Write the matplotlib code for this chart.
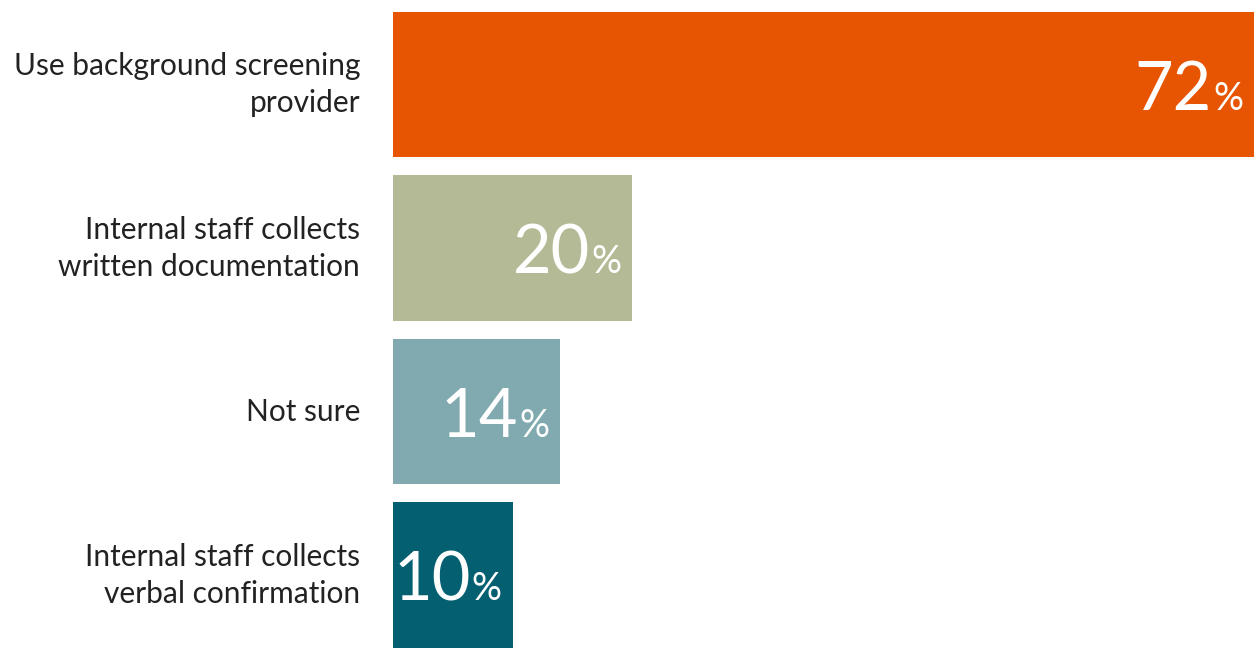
import matplotlib.pyplot as plt
from matplotlib.transforms import offset_copy

# data
categories = ["Use background screening\nprovider",
              "Internal staff collects\nwritten documentation",
              "Not sure",
              "Internal staff collects\nverbal confirmation"]
values = [72, 20, 14, 10]
colors = ["#E85502", "#B5BA96", "#80AAAF", "#046070"]

plt.rcParams['font.family'] = ['Lato', 'DejaVu Sans']

fig = plt.figure(figsize=(12.54, 6.48), dpi=100)
ax = fig.add_axes([393 / 1254, 0, 861 / 1254, 1])

ypos = list(range(len(values)))
ax.barh(ypos, values, height=0.89, color=colors, left=0)
ax.set_xlim(0, 72)
ax.set_ylim(3.445, -0.518)
ax.axis('off')

for y, v, cat in zip(ypos, values, categories):
    # category label left of the bars
    tr = offset_copy(ax.transData, fig=fig, x=-33, y=0, units='dots')
    ax.text(0, y, cat, transform=tr, ha='right', va='center',
            fontsize=21.5, color='#222222', linespacing=1.38,
            multialignment='right')
    # percent sign
    tr_p = offset_copy(ax.transData, fig=fig, x=-11, y=-25, units='dots')
    ax.text(v, y, "%", transform=tr_p, ha='right', va='baseline',
            fontsize=27, color='white')
    # number
    tr_n = offset_copy(ax.transData, fig=fig, x=-42, y=-25, units='dots')
    ax.text(v, y, str(v), transform=tr_n, ha='right', va='baseline',
            fontsize=48, color='white')

fig.savefig("out.png", dpi=100)
